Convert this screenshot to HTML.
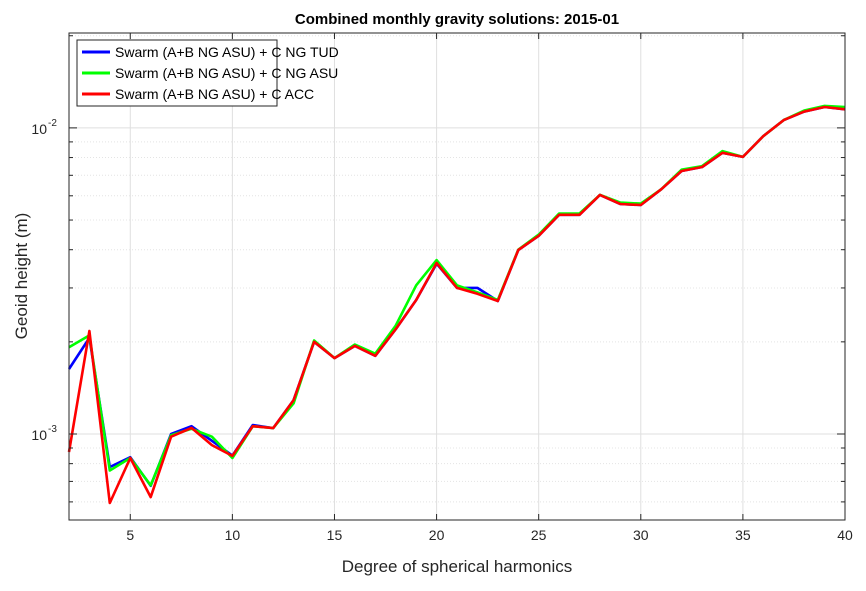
<!DOCTYPE html>
<html><head><meta charset="utf-8">
<style>
body{margin:0;background:#fff;font-family:"Liberation Sans",Arial,sans-serif;}
svg text{font-family:"Liberation Sans",Arial,sans-serif;}
</style></head>
<body>
<svg id="chart" width="866" height="586" viewBox="0 0 866 586" xmlns="http://www.w3.org/2000/svg">
<rect x="0" y="0" width="866" height="586" fill="#fff"/>
<text x="457" y="24" text-anchor="middle" font-size="15" font-weight="bold" fill="#000">Combined monthly gravity solutions: 2015-01</text>
<g id="grid"></g>
<g id="series"></g>
<g id="axes"></g>
<text x="457" y="572" text-anchor="middle" font-size="17" fill="#262626">Degree of spherical harmonics</text>
<text transform="translate(27,276) rotate(-90)" text-anchor="middle" font-size="17" fill="#262626">Geoid height (m)</text>
<g>
<rect x="77" y="40" width="200" height="66" fill="#fff" stroke="#262626" stroke-width="1"/>
<line x1="82" y1="52" x2="110" y2="52" stroke="#0000ff" stroke-width="3"/>
<text x="115" y="57" font-size="14" fill="#000">Swarm (A+B NG ASU) + C NG TUD</text>
<line x1="82" y1="73" x2="110" y2="73" stroke="#00ff00" stroke-width="3"/>
<text x="115" y="78" font-size="14" fill="#000">Swarm (A+B NG ASU) + C NG ASU</text>
<line x1="82" y1="94" x2="110" y2="94" stroke="#ff0000" stroke-width="3"/>
<text x="115" y="99" font-size="14" fill="#000">Swarm (A+B NG ASU) + C ACC</text>
</g>
</svg>
<script>
const degrees=[2,3,4,5,6,7,8,9,10,11,12,13,14,15,16,17,18,19,20,21,22,23,24,25,26,27,28,29,30,31,32,33,34,35,36,37,38,39,40];
const tudValues=[1.63e-3,2.06e-3,7.8e-4,8.4e-4,6.77e-4,1.0e-3,1.06e-3,9.5e-4,8.5e-4,1.07e-3,1.045e-3,1.29e-3,2.0e-3,1.77e-3,1.94e-3,1.8e-3,2.2e-3,2.74e-3,3.6e-3,3.0e-3,3.0e-3,2.72e-3,3.99e-3,4.44e-3,5.2e-3,5.2e-3,6.04e-3,5.64e-3,5.6e-3,6.3e-3,7.23e-3,7.45e-3,8.29e-3,8.04e-3,9.4e-3,1.06e-2,1.13e-2,1.17e-2,1.15e-2];
const asuValues=[1.92e-3,2.1e-3,7.6e-4,8.35e-4,6.8e-4,9.9e-4,1.04e-3,9.8e-4,8.35e-4,1.06e-3,1.045e-3,1.26e-3,2.02e-3,1.77e-3,1.96e-3,1.83e-3,2.26e-3,3.06e-3,3.7e-3,3.06e-3,2.9e-3,2.74e-3,4.0e-3,4.48e-3,5.25e-3,5.25e-3,6.04e-3,5.7e-3,5.66e-3,6.3e-3,7.3e-3,7.5e-3,8.4e-3,8.04e-3,9.4e-3,1.06e-2,1.14e-2,1.18e-2,1.17e-2];
const accValues=[8.73e-4,2.17e-3,5.95e-4,8.35e-4,6.22e-4,9.8e-4,1.047e-3,9.2e-4,8.48e-4,1.06e-3,1.045e-3,1.29e-3,2.0e-3,1.77e-3,1.94e-3,1.8e-3,2.2e-3,2.74e-3,3.62e-3,3.0e-3,2.87e-3,2.72e-3,3.99e-3,4.44e-3,5.2e-3,5.2e-3,6.04e-3,5.64e-3,5.6e-3,6.3e-3,7.23e-3,7.45e-3,8.29e-3,8.04e-3,9.4e-3,1.06e-2,1.13e-2,1.17e-2,1.15e-2];
const xTicks=[5,10,15,20,25,30,35,40];
const yMajorTicks=[1e-3,1e-2];
const yTickLabels=["10","10"];
const yTickExps=["-3","-2"];

const L=69,R=845,T=33,B=520;
const xMin=2,xMax=40;
const yLogMin=-3.281,yLogMax=-1.69;
function xs(v){return L+(v-xMin)/(xMax-xMin)*(R-L);}
function ys(v){return B-(Math.log10(v)-yLogMin)/(yLogMax-yLogMin)*(B-T);}
const NS="http://www.w3.org/2000/svg";
function mk(tag,attrs,parent){const e=document.createElementNS(NS,tag);for(const k in attrs)e.setAttribute(k,attrs[k]);parent.appendChild(e);return e;}
const grid=document.getElementById('grid'),axes=document.getElementById('axes'),series=document.getElementById('series');
mk('rect',{x:L,y:T,width:R-L,height:B-T,fill:'#fff'},grid);
// x grid
xTicks.forEach(t=>{const x=xs(t);
 const g=mk('line',{x1:x,x2:x,y1:T,y2:B,stroke:'#dfdfdf','stroke-width':1},grid);
 
 mk('line',{x1:x,x2:x,y1:B,y2:B-6,stroke:'#262626'},axes);
 mk('line',{x1:x,x2:x,y1:T,y2:T+6,stroke:'#262626'},axes);
 const tx=mk('text',{x:x,y:B+20,'text-anchor':'middle','font-size':14,fill:'#262626'},axes);tx.textContent=t;
 
});
// y minor grid
for(let e=-4;e<=-2;e++){for(let m=1;m<=9;m++){const v=m*Math.pow(10,e);const y=ys(v);if(y<T||y>B)continue;
 if(m===1){const g=mk('line',{x1:L,x2:R,y1:y,y2:y,stroke:'#dfdfdf','stroke-width':1},grid);
  mk('line',{x1:L,x2:L+8,y1:y,y2:y,stroke:'#262626'},axes);mk('line',{x1:R,x2:R-8,y1:y,y2:y,stroke:'#262626'},axes);}
 else{const g=mk('line',{x1:L,x2:R,y1:y,y2:y,stroke:'#e4e4e4','stroke-width':1,'stroke-dasharray':'1,2'},grid);
  mk('line',{x1:L,x2:L+4,y1:y,y2:y,stroke:'#262626'},axes);mk('line',{x1:R,x2:R-4,y1:y,y2:y,stroke:'#262626'},axes);}
}}
yMajorTicks.forEach((v,i)=>{const y=ys(v);
 const tx=mk('text',{x:L-22,y:y+6,'text-anchor':'end','font-size':14,fill:'#262626'},axes);tx.textContent=yTickLabels[i];
 
 const ex=mk('text',{x:L-21,y:y-2,'text-anchor':'start','font-size':10,fill:'#262626'},axes);ex.textContent=yTickExps[i];
 
});
const box=mk('rect',{x:L,y:T,width:R-L,height:B-T,fill:'none',stroke:'#262626','stroke-width':1},axes);

function line(vals,color,name){const d=vals.map((v,i)=>(i?'L':'M')+xs(degrees[i]).toFixed(1)+' '+ys(v).toFixed(1)).join(' ');
 const p=mk('path',{d:d,fill:'none',stroke:color,'stroke-width':2.6,'stroke-linejoin':'round'},series);
 }
line(tudValues,'#0000ff','series-tud');
line(asuValues,'#00ff00','series-asu');
line(accValues,'#ff0000','series-acc');
</script>
</body></html>
